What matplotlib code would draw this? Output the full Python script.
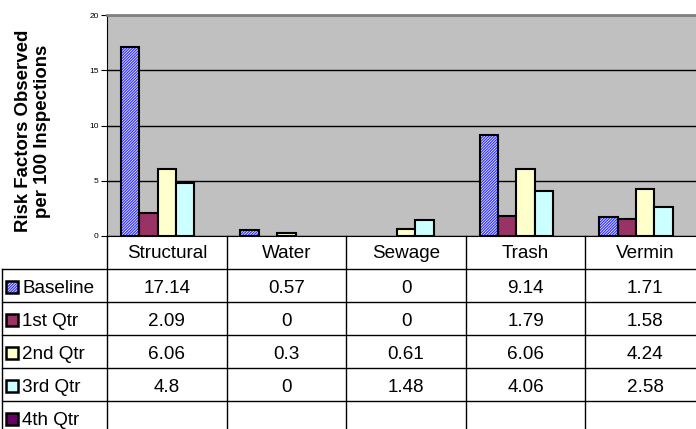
import matplotlib
matplotlib.use('Agg')
import matplotlib.pyplot as plt
import matplotlib.transforms as mtransforms
from matplotlib.patches import Rectangle
from matplotlib.lines import Line2D
import numpy as np

categories = ['Structural', 'Water', 'Sewage', 'Trash', 'Vermin']
series_names = ['Baseline', '1st Qtr', '2nd Qtr', '3rd Qtr', '4th Qtr']
baseline = [17.14, 0.57, 0, 9.14, 1.71]
qtr1 = [2.09, 0, 0, 1.79, 1.58]
qtr2 = [6.06, 0.3, 0.61, 6.06, 4.24]
qtr3 = [4.8, 0, 1.48, 4.06, 2.58]
qtr4 = [None, None, None, None, None]
series = [baseline, qtr1, qtr2, qtr3, qtr4]
colors = ['white', '#993366', '#FFFFCC', '#CCFFFF', '#660066']

plt.rcParams['font.family'] = ['Liberation Sans', 'DejaVu Sans']
plt.rcParams['hatch.linewidth'] = 0.9
HATCH = '/' * 12

W, H = 696, 429
fig = plt.figure(figsize=(W / 100, H / 100), dpi=100)

# plot area in pixels (right side runs past the picture edge)
left, right, top, bottom = 107, 705, 15, 236
ax = fig.add_axes([left / W, 1 - bottom / H, (right - left) / W, (bottom - top) / H])
ax.set_facecolor('#C0C0C0')

x = np.arange(len(categories))
w = 1 / 6.5
for j, vals in enumerate(series):
    # empty cells and zeros draw no bar
    heights = [np.nan if (v is None or v == 0) else v for v in vals]
    pos = x + (j - 2) * w
    if j == 0:
        ax.bar(pos, heights, w, color='white', edgecolor='#3333FF', hatch=HATCH, linewidth=0, zorder=3)
        ax.bar(pos, heights, w, fill=False, edgecolor='black', linewidth=1.5, zorder=4)
    else:
        ax.bar(pos, heights, w, color=colors[j], edgecolor='black', linewidth=1.5, zorder=3)

ax.set_xlim(-0.5, 4.5)
ax.set_ylim(0, 20)
ax.set_yticks([0, 5, 10, 15, 20])
ax.tick_params(axis='y', labelsize=6, length=4, width=0.8, pad=2)
ax.set_xticks([])
ax.yaxis.grid(True, color='black', linewidth=1)
ax.set_axisbelow(True)
ax.spines['top'].set_color('#808080')
ax.spines['top'].set_linewidth(2)
ax.spines['right'].set_visible(False)
ax.spines['left'].set_color('black')
ax.spines['bottom'].set_color('black')

fig.text(33 / W, 1 - 131 / H, 'Risk Factors Observed\nper 100 Inspections',
         rotation=90, ha='center', va='center', fontsize=13.4, fontweight='bold',
         linespacing=1.15)

# data table below the plot
trans = mtransforms.blended_transform_factory(ax.transData, fig.transFigure)
def fy(p):
    return 1 - p / H

row_edges = [269, 302, 335, 368, 401, 434]
for i in range(len(categories) + 1):
    fig.add_artist(Line2D([i - 0.5, i - 0.5], [fy(bottom), fy(440)], transform=trans,
                          color='black', linewidth=1))
for r in row_edges[:-1]:
    fig.add_artist(Line2D([2 / W, 1], [fy(r), fy(r)], transform=fig.transFigure,
                          color='black', linewidth=1))
fig.add_artist(Line2D([2 / W, 2 / W], [fy(269), fy(440)], transform=fig.transFigure,
                      color='black', linewidth=1))

FS = 13.6
base_off = 6.0
for i, cat in enumerate(categories):
    fig.text(i, fy(251.5 + base_off), cat, transform=trans, ha='center', va='baseline', fontsize=FS)

for j, (name, vals) in enumerate(zip(series_names, series)):
    yc = (row_edges[j] + row_edges[j + 1]) / 2 + 1.5
    for i, v in enumerate(vals):
        if v is not None:
            fig.text(i, fy(yc + base_off), f'{v:g}', transform=trans, ha='center', va='baseline', fontsize=FS)
    kx, ks = 5.5, 12.5
    if j == 0:
        fig.add_artist(Rectangle((kx / W, fy(yc + ks / 2)), ks / W, ks / H, transform=fig.transFigure,
                                 facecolor='white', edgecolor='#3333FF', hatch=HATCH, linewidth=0))
        fig.add_artist(Rectangle((kx / W, fy(yc + ks / 2)), ks / W, ks / H, transform=fig.transFigure,
                                 fill=False, edgecolor='black', linewidth=1.8))
    else:
        fig.add_artist(Rectangle((kx / W, fy(yc + ks / 2)), ks / W, ks / H, transform=fig.transFigure,
                                 facecolor=colors[j], edgecolor='black', linewidth=1.8))
    fig.text(22.5 / W, fy(yc + base_off), name, ha='left', va='baseline', fontsize=FS)

fig.savefig('out.png', dpi=100)
